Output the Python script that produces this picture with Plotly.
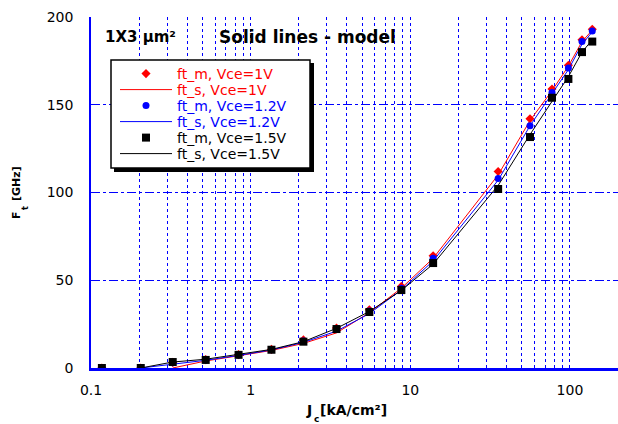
import plotly.graph_objects as go

# Measured current density points [kA/cm^2]
j_meas = [0.117, 0.205, 0.325, 0.523, 0.84, 1.35, 2.14, 3.45, 5.54, 8.79, 13.9, 35.5, 56.2, 77.2, 97.8, 119, 138]
ft_m_1v = [0.0, 0.0, 3.2, 4.8, 7.6, 10.6, 16.0, 22.8, 33.2, 46.5, 64.0, 112.0, 142.0, 159.0, 172.5, 187.0, 193.0]
ft_m_12v = [0.0, 0.0, 3.0, 4.6, 7.4, 10.4, 15.4, 22.3, 32.5, 45.5, 62.5, 108.0, 138.0, 157.0, 171.0, 186.0, 192.0]
ft_m_15v = [0.0, 0.0, 3.4, 4.6, 7.5, 10.4, 15.0, 22.2, 31.9, 44.4, 59.8, 102.0, 131.6, 154.0, 164.7, 180.0, 186.0]

# Model (simulated) curves
j_sim = [0.205, 0.325, 0.523, 0.84, 1.35, 2.14, 3.45, 5.54, 8.79, 13.9, 35.5, 56.2, 77.2, 97.8, 119, 138]
ft_s_1v = [None, 0.0, 4.0, 7.0, 10.0, 14.0, 20.0, 31.5, 45.5, 62.5, 110.0, 141.0, 158.0, 172.0, 186.0, 192.5]
ft_s_12v = [0.0, 2.0, 4.4, 7.2, 10.3, 14.6, 21.0, 31.0, 44.5, 61.0, 107.0, 138.0, 156.0, 170.0, 184.5, 191.5]
ft_s_15v = [0.0, 3.4, 5.0, 7.6, 10.6, 15.0, 22.6, 32.2, 44.2, 59.2, 104.0, 133.0, 152.0, 166.0, 180.0, 187.0]

series_names = ["ft_m, Vce=1V", "ft_s, Vce=1V", "ft_m, Vce=1.2V", "ft_s, Vce=1.2V", "ft_m, Vce=1.5V", "ft_s, Vce=1.5V"]
x_ticks = [0.1, 1, 10, 100]
x_tick_labels = ["0.1", "1", "10", "100"]
y_ticks = [0, 50, 100, 150, 200]

RED = "#ff0000"
BLUE = "#0000ff"
BLACK = "#000000"

W, H = 618, 424
L, R, T, B = 91, 0, 17, 56
pw, ph = W - L - R, H - T - B


def px(xp):
    return (xp - L) / pw


def py(yp):
    return (H - B - yp) / ph


fig = go.Figure()

fig.add_trace(go.Scatter(x=j_meas, y=ft_m_1v, mode="markers", name=series_names[0], legend="legend",
                         marker=dict(symbol="diamond", size=7, color=RED)))
fig.add_trace(go.Scatter(x=j_sim, y=ft_s_1v, mode="lines", name=series_names[1], legend="legend2",
                         line=dict(color=RED, width=1)))
fig.add_trace(go.Scatter(x=j_meas, y=ft_m_12v, mode="markers", name=series_names[2], legend="legend3",
                         marker=dict(symbol="circle", size=7, color=BLUE)))
fig.add_trace(go.Scatter(x=j_sim, y=ft_s_12v, mode="lines", name=series_names[3], legend="legend4",
                         line=dict(color=BLUE, width=1)))
fig.add_trace(go.Scatter(x=j_meas, y=ft_m_15v, mode="markers", name=series_names[4], legend="legend5",
                         marker=dict(symbol="square", size=8, color=BLACK)))
fig.add_trace(go.Scatter(x=j_sim, y=ft_s_15v, mode="lines", name=series_names[5], legend="legend6",
                         line=dict(color=BLACK, width=1)))

legend_colors = [RED, RED, BLUE, BLUE, BLACK, BLACK]
legend_rows = [74, 90, 106, 122, 138, 154]


def leg(i):
    return dict(x=px(115), y=py(legend_rows[i]), xanchor="left", yanchor="middle",
                bgcolor="rgba(0,0,0,0)", borderwidth=0,
                font=dict(family="DejaVu Sans", size=14, color=legend_colors[i]),
                itemwidth=52)


tickfont = dict(family="DejaVu Sans", size=14, color="black")

fig.update_layout(
    width=W, height=H,
    margin=dict(l=L, r=R, t=T, b=B),
    paper_bgcolor="white", plot_bgcolor="white",
    showlegend=True,
    legend=leg(0), legend2=leg(1), legend3=leg(2), legend4=leg(3), legend5=leg(4), legend6=leg(5),
    xaxis=dict(type="log", range=[-1, 2.30103],
               tickvals=x_ticks, ticktext=x_tick_labels,
               tickfont=tickfont, ticks="", ticklabelstandoff=7,
               showgrid=True, gridcolor=BLUE, gridwidth=1, griddash="dot",
               minor=dict(dtick="D1", showgrid=True, gridcolor=BLUE, gridwidth=1, griddash="dot", ticks=""),
               showline=True, linecolor=BLUE, linewidth=2.5, zeroline=False),
    yaxis=dict(range=[0, 200], tickvals=y_ticks,
               tickfont=tickfont, ticks="", ticklabelstandoff=13,
               showgrid=True, gridcolor=BLUE, gridwidth=1, griddash="dashdot",
               showline=True, linecolor=BLUE, linewidth=1.5, zeroline=False),
)

# Legend box with shadow
fig.add_shape(type="rect", xref="paper", yref="paper", x0=px(114), x1=px(314), y0=py(172), y1=py(63),
              fillcolor="black", line=dict(width=0), layer="above")
fig.add_shape(type="rect", xref="paper", yref="paper", x0=px(111), x1=px(310), y0=py(168), y1=py(60),
              fillcolor="white", line=dict(color="black", width=1.5), layer="above")

fig.add_annotation(xref="paper", yref="paper", x=px(103), y=py(37), xanchor="left", yanchor="middle",
                   text="<b>1X3 μm²</b>", showarrow=False,
                   font=dict(family="DejaVu Sans", size=15, color="black"))
fig.add_annotation(xref="paper", yref="paper", x=px(217), y=py(37), xanchor="left", yanchor="middle",
                   text="<b>Solid lines - model</b>", showarrow=False,
                   font=dict(family="DejaVu Sans", size=17, color="black"))
# x-axis title: J, subscript c, rest
fig.add_annotation(xref="paper", yref="paper", x=px(314), y=py(410), xanchor="right", yanchor="middle",
                   text="<b>J</b>", showarrow=False,
                   font=dict(family="DejaVu Sans", size=14, color="black"))
fig.add_annotation(xref="paper", yref="paper", x=px(312), y=py(419), xanchor="left", yanchor="middle",
                   text="<b>c</b>", showarrow=False,
                   font=dict(family="DejaVu Sans", size=9, color="black"))
fig.add_annotation(xref="paper", yref="paper", x=px(318), y=py(410), xanchor="left", yanchor="middle",
                   text="<b>[kA/cm²]</b>", showarrow=False,
                   font=dict(family="DejaVu Sans", size=14, color="black"))
# y-axis title: F, subscript t, [GHz]
fig.add_annotation(xref="paper", yref="paper", x=px(16), y=py(215), xanchor="center", yanchor="middle",
                   text="<b>F</b>", showarrow=False, textangle=-90,
                   font=dict(family="DejaVu Sans", size=11, color="black"))
fig.add_annotation(xref="paper", yref="paper", x=px(25), y=py(208), xanchor="center", yanchor="middle",
                   text="<b>t</b>", showarrow=False, textangle=-90,
                   font=dict(family="DejaVu Sans", size=8, color="black"))
fig.add_annotation(xref="paper", yref="paper", x=px(16), y=py(184), xanchor="center", yanchor="middle",
                   text="<b>[GHz]</b>", showarrow=False, textangle=-90,
                   font=dict(family="DejaVu Sans", size=11, color="black"))

fig.write_html("out.html")
